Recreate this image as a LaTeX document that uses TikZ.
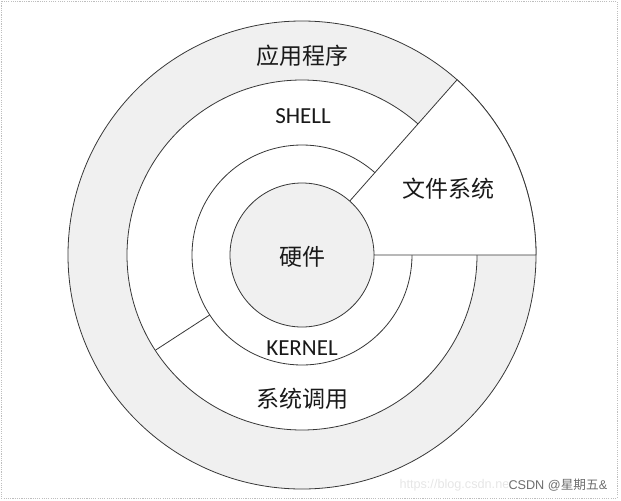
\documentclass[tikz,border=0pt]{standalone}
\usepackage{fontspec}
\usepackage{tikz}
\usepackage{xcolor}
\setmainfont{Carlito}
\newfontfamily\cjk{Noto Sans CJK SC}
\newfontfamily\wmfont{Liberation Sans}
\tikzset{every picture/.style={line width=0.75pt}}
\definecolor{ringgray}{RGB}{240,240,240}
\definecolor{edgegray}{RGB}{55,55,55}

\begin{document}
\begin{tikzpicture}[x=0.75pt,y=0.75pt,yscale=-1,xscale=1,
  ring/.style={draw=edgegray,line width=0.6pt},
  lbl/.style={font=\fontsize{17.25}{20}\selectfont,text={rgb,255:red,25;green,25;blue,25},inner sep=0.75pt}]
%set diagram left start at 0, and has size 621 x 500
\path (0,0) rectangle (621,500);

%Frame
\draw [color={rgb, 255:red, 190; green, 190; blue, 190 }, dash pattern={on 0.84pt off 0.84pt}] (1,1) rectangle (617,498);

%Shape: Circle [application ring]
\draw [ring, fill=ringgray] (302,255) circle (234);
%Shape: Circle [shell]
\draw [ring, fill=white] (302,255) circle (175);
%Shape: Circle [kernel]
\draw [ring, fill=white] (302,255) circle (110);
%Shape: Sector [file system]
\draw [ring, fill=white, shift={(302,255)}] (0:72) -- (0:234) arc [start angle=0, end angle=-48.5, radius=234] -- (-48.5:72) -- cycle ;
%Shape: Circle [hardware]
\draw [ring, fill=ringgray] (302,255) circle (72);
%Straight Lines [system call border]
\draw [ring, shift={(302,255)}] (147:110) -- (147:175) ;

% Text Node
\draw (302,56) node [lbl] (app) {\cjk 应用程序};
% Text Node
\draw (303,116) node [lbl] (shell) {SHELL};
% Text Node
\draw (448,189) node [lbl] (fs) {\cjk 文件系统};
% Text Node
\draw (302,257) node [lbl] (hw) {\cjk 硬件};
% Text Node
\draw (302,348) node [lbl] (kernel) {KERNEL};
% Text Node
\draw (302,399) node [lbl] (syscall) {\cjk 系统调用};

% Text Node
\draw (398,485) node [anchor=west][inner sep=0.75pt] [font=\wmfont\fontsize{9.5}{11}\selectfont, text={rgb, 255:red, 230; green, 230; blue, 230 }] (url) {https://blog.csdn.net};
% Text Node
\draw (507,485) node [anchor=west][inner sep=0.75pt] [fill=white, font=\fontsize{9.5}{11}\selectfont, text={rgb, 255:red, 110; green, 110; blue, 110 }] (mark) {\wmfont CSDN @\cjk 星期五\wmfont \&};

\end{tikzpicture}
\end{document}
